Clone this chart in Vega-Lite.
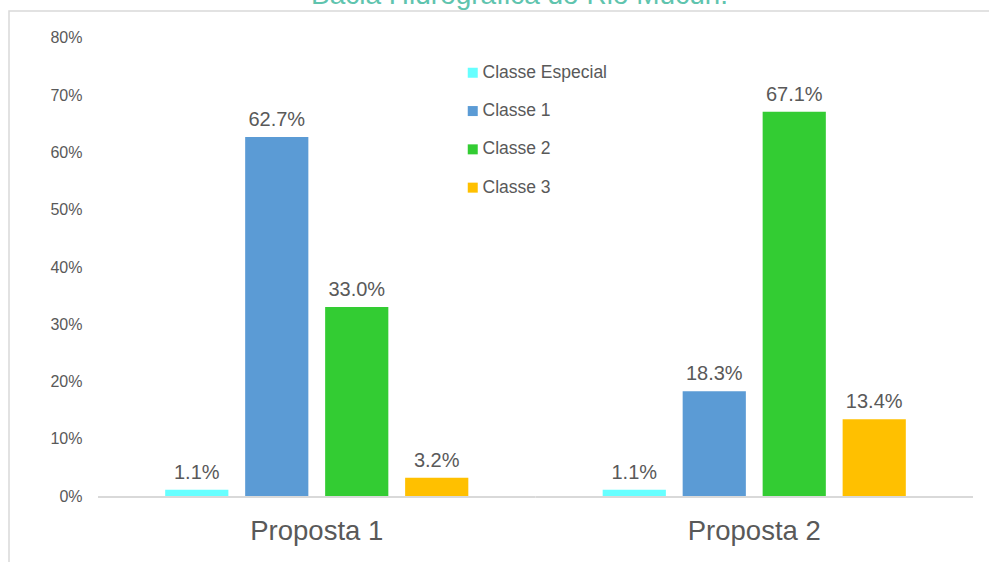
{
  "$schema": "https://vega.github.io/schema/vega-lite/v6.json",
  "width": 983,
  "height": 554,
  "autosize": {"type": "none"},
  "padding": {"left": 9, "top": 11, "right": -3, "bottom": -3},
  "background": "white",
  "config": {
    "view": {"stroke": "#d9d9d9", "strokeWidth": 1.5},
    "font": "Liberation Sans"
  },
  "title": {
    "text": "Bacia Hidrográfica do Rio Mucuri.",
    "color": "#5fc4ae",
    "fontSize": 28,
    "fontWeight": "normal",
    "font": "Liberation Sans",
    "anchor": "middle",
    "baseline": "alphabetic",
    "offset": -21,
    "dx": 19
  },
  "data": {
    "values": [
      {"proposta": "Proposta 1", "classe": "Classe Especial", "valor": 0.011},
      {"proposta": "Proposta 1", "classe": "Classe 1", "valor": 0.627},
      {"proposta": "Proposta 1", "classe": "Classe 2", "valor": 0.330},
      {"proposta": "Proposta 1", "classe": "Classe 3", "valor": 0.032},
      {"proposta": "Proposta 2", "classe": "Classe Especial", "valor": 0.011},
      {"proposta": "Proposta 2", "classe": "Classe 1", "valor": 0.183},
      {"proposta": "Proposta 2", "classe": "Classe 2", "valor": 0.671},
      {"proposta": "Proposta 2", "classe": "Classe 3", "valor": 0.134}
    ]
  },
  "layer": [
    {
      "data": {"values": [{"proposta": "Proposta 1"}, {"proposta": "Proposta 2"}]},
      "mark": {"type": "bar", "color": "#d9d9d9"},
      "encoding": {
        "x": {"field": "proposta", "type": "nominal"},
        "y": {"datum": 0, "type": "quantitative"},
        "y2": {"datum": -0.0035}
      }
    },
    {
      "mark": {"type": "bar"},
      "encoding": {
        "x": {
          "field": "proposta",
          "type": "nominal",
          "title": null,
          "scale": {"paddingInner": 0, "paddingOuter": 0.12343, "align": 0.82407},
          "axis": {
            "orient": "bottom",
            "offset": -69,
            "domain": false,
            "ticks": false,
            "tickSize": 0,
            "labelAngle": 0,
            "labelAlign": "center",
            "labelPadding": 43,
            "labelBaseline": "alphabetic",
            "labelFontSize": 27.5,
            "labelColor": "#595959",
            "labelFont": "Liberation Sans"
          }
        },
        "xOffset": {
          "field": "classe",
          "type": "nominal",
          "sort": ["Classe Especial", "Classe 1", "Classe 2", "Classe 3"],
          "scale": {"paddingInner": 0.21, "paddingOuter": 0.84}
        },
        "y": {
          "field": "valor",
          "type": "quantitative",
          "title": null,
          "scale": {"domain": [-0.12052, 0.84716], "nice": false, "zero": false},
          "axis": {
            "values": [0, 0.1, 0.2, 0.3, 0.4, 0.5, 0.6, 0.7, 0.8],
            "format": ".0%",
            "offset": -73,
            "domain": false,
            "ticks": false,
            "tickSize": 0,
            "labelPadding": 0,
            "grid": false,
            "labelFontSize": 16,
            "labelColor": "#595959",
            "labelFont": "Liberation Sans"
          }
        },
        "color": {
          "field": "classe",
          "type": "nominal",
          "sort": ["Classe Especial", "Classe 1", "Classe 2", "Classe 3"],
          "scale": {
            "domain": ["Classe Especial", "Classe 1", "Classe 2", "Classe 3"],
            "range": ["#66ffff", "#5b9bd5", "#33cc33", "#ffc000"]
          },
          "legend": {
            "title": null,
            "orient": "none",
            "legendX": 455,
            "legendY": 53,
            "padding": 0,
            "symbolType": "square",
            "symbolSize": 100,
            "symbolStrokeWidth": 0,
            "labelFontSize": 17.5,
            "labelColor": "#595959",
            "labelFont": "Liberation Sans",
            "labelOffset": 1,
            "rowPadding": 19.3
          }
        }
      }
    },
    {
      "mark": {"type": "text", "baseline": "alphabetic", "dy": -11, "fontSize": 20, "color": "#595959", "font": "Liberation Sans"},
      "encoding": {
        "x": {"field": "proposta", "type": "nominal"},
        "xOffset": {
          "field": "classe",
          "type": "nominal",
          "sort": ["Classe Especial", "Classe 1", "Classe 2", "Classe 3"]
        },
        "y": {"field": "valor", "type": "quantitative"},
        "text": {"field": "valor", "type": "quantitative", "format": ".1%"}
      }
    }
  ]
}
